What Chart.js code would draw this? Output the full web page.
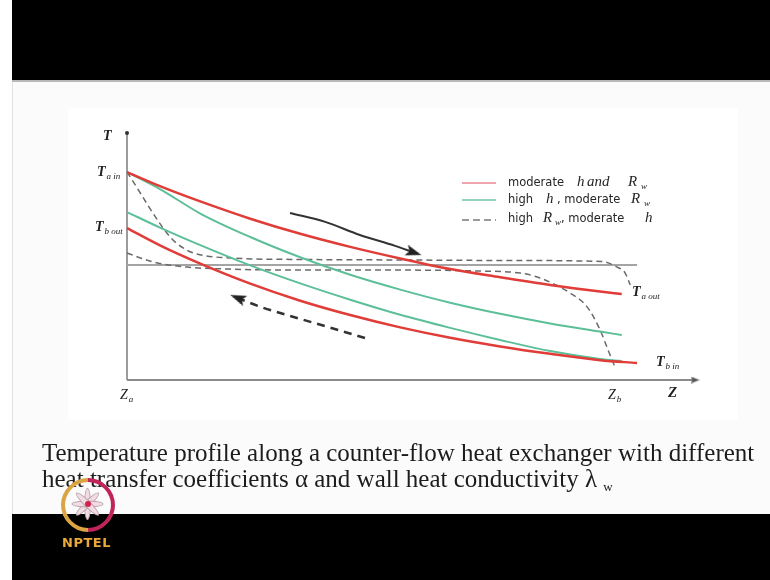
<!DOCTYPE html>
<html lang="en">
<head>
<meta charset="UTF-8">
<title>Temperature profile along a counter-flow heat exchanger</title>
<style>
  body { margin: 0; width: 770px; height: 580px; position: relative; overflow: hidden; background: #fff; }
  .slide { position: absolute; left: 12px; top: 0; width: 758px; height: 580px; background: #fbfbfb; border-left: 1px solid #e2e2e2; }
  .bar-top { position: absolute; left: 12px; top: 0; width: 758px; height: 80px; background: #000; }
  .bar-line { position: absolute; left: 12px; top: 80px; width: 758px; height: 2px; background: #b8b8b8; }
  .figure { position: absolute; left: 68px; top: 108px; width: 670px; height: 312px; background: #fff; }
  .bar-bottom { position: absolute; left: 12px; top: 514px; width: 758px; height: 66px; background: #000; }
  #chart { position: absolute; left: 0; top: 0; }

  .lbl { position: absolute; font-family: "Liberation Serif", "Times New Roman", serif; font-style: italic; font-weight: bold; font-size: 14px; line-height: 1; color: #222; white-space: nowrap; }
  .lbl sub { font-size: 9px; font-weight: normal; vertical-align: -3px; margin-left: 1px; }

  .sw { position: absolute; left: 462px; width: 34px; height: 2px; }
  .lg { position: absolute; line-height: 1; white-space: nowrap; color: #262626; }
  .sans { font-family: "DejaVu Sans", Verdana, sans-serif; font-size: 11.5px; }
  .it { font-family: "Liberation Serif", "Times New Roman", serif; font-style: italic; font-size: 15px; }
  .sb { font-family: "Liberation Serif", "Times New Roman", serif; font-style: italic; font-size: 9px; }

  .caption { position: absolute; left: 42px; top: 440px; font-family: "Liberation Serif", "Times New Roman", serif; font-size: 25px; line-height: 26px; color: #1c1c1c; white-space: nowrap; }
  .caption sub { font-size: 13px; vertical-align: -4px; }

  .logo { position: absolute; left: 58px; top: 476px; width: 60px; height: 75px; }
  .ring { position: absolute; left: 3px; top: 2px; width: 46px; height: 46px; border: 4px solid; border-radius: 50%;
          border-color: #d9a441 #c0245a #c0245a #d9a441; transform: rotate(-45deg); }
  .petal { position: absolute; left: 28px; top: 12px; width: 5px; height: 30px; margin-left: -2.5px; border-radius: 50%;
           background: #f2dbe3; border: 1px solid #b9a3ab; }
  .core { position: absolute; left: 27px; top: 25px; width: 6px; height: 6px; border-radius: 50%; background: #d2234f; }
  .nptel { position: absolute; left: 4px; top: 60px; font-family: "DejaVu Sans", sans-serif; font-weight: bold; font-size: 13px; letter-spacing: 0.5px; color: #e9a83a; line-height: 1; }
</style>
<script src="https://cdn.jsdelivr.net/npm/chart.js"></script>
</head>
<body>
  <div class="slide"></div>
  <div class="bar-top"></div>
  <div class="bar-line"></div>
  <div class="figure"></div>
  <div class="bar-bottom"></div>

  <canvas id="chart" width="770" height="580"></canvas>

  <!-- axis and curve labels -->
  <div class="lbl" style="left:103px; top:129px;">T</div>
  <div class="lbl" style="left:97px; top:165px;">T<sub>a in</sub></div>
  <div class="lbl" style="left:95px; top:220px;">T<sub>b out</sub></div>
  <div class="lbl" style="left:120px; top:388px; font-weight:normal;">Z<sub>a</sub></div>
  <div class="lbl" style="left:608px; top:388px; font-weight:normal;">Z<sub>b</sub></div>
  <div class="lbl" style="left:668px; top:385px; font-size:15px;">Z</div>
  <div class="lbl" style="left:632px; top:285px;">T<sub>a out</sub></div>
  <div class="lbl" style="left:656px; top:355px;">T<sub>b in</sub></div>

  <!-- legend -->
  <div class="sw" style="top:182px; background:#eea5ad;"></div>
  <div class="sw" style="top:199px; background:#93d3c0;"></div>
  <div class="sw" style="top:219px; background:repeating-linear-gradient(90deg, #9a9a9a 0 7px, transparent 7px 11px);"></div>

  <span class="lg sans" style="left:508px; top:177px;">moderate</span>
  <span class="lg it" style="left:577px; top:174px;">h</span>
  <span class="lg it" style="left:587px; top:174px;">and</span>
  <span class="lg it" style="left:628px; top:174px;">R</span>
  <span class="lg sb" style="left:641px; top:182px;">w</span>

  <span class="lg sans" style="left:508px; top:194px;">high</span>
  <span class="lg it" style="left:546px; top:191px;">h</span>
  <span class="lg sans" style="left:557px; top:194px;">, moderate</span>
  <span class="lg it" style="left:631px; top:191px;">R</span>
  <span class="lg sb" style="left:644px; top:199px;">w</span>

  <span class="lg sans" style="left:508px; top:213px;">high</span>
  <span class="lg it" style="left:543px; top:210px;">R</span>
  <span class="lg sb" style="left:555px; top:218px;">w</span>
  <span class="lg sans" style="left:561px; top:213px;">,  moderate</span>
  <span class="lg it" style="left:645px; top:210px;">h</span>

  <div class="caption">Temperature profile along a counter-flow heat exchanger with different<br>heat transfer coefficients α and wall heat conductivity λ <sub>w</sub></div>

  <div class="logo">
    <div class="ring"></div>
    <div class="petal" style="transform:rotate(0deg)"></div>
    <div class="petal" style="transform:rotate(45deg)"></div>
    <div class="petal" style="transform:rotate(90deg)"></div>
    <div class="petal" style="transform:rotate(135deg)"></div>
    <div class="core"></div>
    <div class="nptel">NPTEL</div>
  </div>

<script>
  // position along the exchanger (Z_a = 0) and temperature, in figure units
  const zGrid = [0, 5.8, 12.9, 21.7, 30.5, 39.3, 48.1, 56.9, 65.7, 74.5, 83.3, 87.1];

  // moderate h and Rw (red)
  const tHotModerate = [84.2, 78.5, 72.3, 65.3, 59.2, 53.9, 49.2, 44.9, 41.6, 38.5, 35.8, 34.8];
  const zColdModerate = [0, 5.8, 12.9, 21.7, 30.5, 39.3, 48.1, 56.9, 65.7, 74.5, 83.3, 89.8];
  const tColdModerate = [61.5, 54.5, 47.1, 39.0, 32.1, 26.3, 21.3, 17.1, 13.6, 10.6, 8.0, 6.9];

  // high h, moderate Rw (green)
  const tHotHighH = [84.2, 77.3, 67.4, 57.9, 49.7, 42.6, 36.6, 31.3, 26.8, 22.9, 19.6, 18.2];
  const tColdHighH = [68.0, 61.7, 54.6, 46.4, 39.1, 32.5, 26.4, 21.1, 16.2, 11.7, 8.5, 7.7];

  // high Rw, moderate h (dashed)
  const zHotHighR = [0, 7.6, 10.2, 12.3, 18.1, 30.5, 48.1, 65.7, 83.5, 86.3, 87.7, 88.6];
  const tHotHighR = [84.2, 57.9, 53.0, 51.0, 49.4, 48.8, 48.6, 48.4, 48.0, 45.7, 43.3, 38.5];
  const zColdHighR = [0, 4.6, 10.6, 18.1, 30.5, 48.1, 62.1, 69.2, 72.7, 78.0, 81.0, 83.3, 84.7, 85.9];
  const tColdHighR = [51.4, 47.8, 45.7, 44.9, 44.5, 44.5, 44.1, 43.3, 41.3, 35.2, 29.6, 20.2, 12.1, 5.3];

  // grey horizontal line
  const zFlat = [0, 89.8];
  const tFlat = [46.6, 46.6];

  // flow direction arrows
  const zArrowHot = [28.7, 34.9, 41.0, 47.2, 50.5];
  const tArrowHot = [67.6, 64.0, 58.7, 54.3, 51.6];
  const zArrowCold = [41.9, 35.2, 29.2, 23.4, 19.5];
  const tArrowCold = [17.0, 21.6, 25.6, 29.7, 33.2];

  // axes
  const zAxisX = [0, 100];
  const tAxisX = [0, 0];
  const zAxisY = [0, 0];
  const tAxisY = [0, 100];

  function pts(zs, ts) {
    return zs.map((z, i) => ({ x: z, y: ts[i] }));
  }

  function curve(zs, ts, color, width, dash) {
    return {
      data: pts(zs, ts),
      borderColor: color,
      borderWidth: width,
      borderDash: dash || [],
      pointRadius: 0,
      fill: false,
      cubicInterpolationMode: 'monotone',
      clip: false
    };
  }

  function arrowHead(w, h, color) {
    const c = document.createElement('canvas');
    c.width = w;
    c.height = h;
    const g = c.getContext('2d');
    g.fillStyle = color;
    g.beginPath();
    g.moveTo(w / 2, 0);
    g.lineTo(w, h);
    g.lineTo(w / 2, h * 0.78);
    g.lineTo(0, h);
    g.closePath();
    g.fill();
    return c;
  }

  function withHead(set, n, rotation, head) {
    set.pointRadius = set.data.map((p, i) => i === n - 1 ? 6 : 0);
    set.pointStyle = head;
    set.pointRotation = rotation;
    set.pointBorderWidth = 0;
    return set;
  }

  const headBig = arrowHead(11, 16, '#222');
  const headSmall = arrowHead(7, 9, '#555');

  const datasets = [
    curve(zGrid, tHotModerate, '#e03c38', 2.5),
    curve(zColdModerate, tColdModerate, '#e03c38', 2.5),
    curve(zGrid, tHotHighH, '#5cbf98', 2),
    curve(zGrid, tColdHighH, '#5cbf98', 2),
    curve(zHotHighR, tHotHighR, '#6a6a6a', 1.5, [6, 4]),
    curve(zColdHighR, tColdHighR, '#6a6a6a', 1.5, [6, 4]),
    curve(zFlat, tFlat, '#a4a4a4', 2),
    withHead(curve(zArrowHot, tArrowHot, '#333', 2), zArrowHot.length, 108, headBig),
    withHead(curve(zArrowCold, tArrowCold, '#333', 2.5, [8, 6]), zArrowCold.length, -68, headBig),
    withHead(curve(zAxisX, tAxisX, '#8c8c8c', 2), zAxisX.length, 90, headSmall),
    curve(zAxisY, tAxisY, '#7a7a7a', 1.5)
  ];
  // small dot at the top of the T axis
  datasets[datasets.length - 1].pointRadius = [0, 2];
  datasets[datasets.length - 1].pointBackgroundColor = '#333';
  datasets[datasets.length - 1].pointBorderWidth = 0;

  new Chart(document.getElementById('chart').getContext('2d'), {
    type: 'line',
    data: { datasets: datasets },
    options: {
      responsive: false,
      animation: false,
      layout: { padding: { left: 127, top: 133, right: 75, bottom: 200 } },
      plugins: {
        legend: { display: false },
        tooltip: { enabled: false }
      },
      scales: {
        x: { type: 'linear', min: 0, max: 100, display: false },
        y: { type: 'linear', min: 0, max: 100, display: false }
      }
    }
  });
</script>
</body>
</html>
